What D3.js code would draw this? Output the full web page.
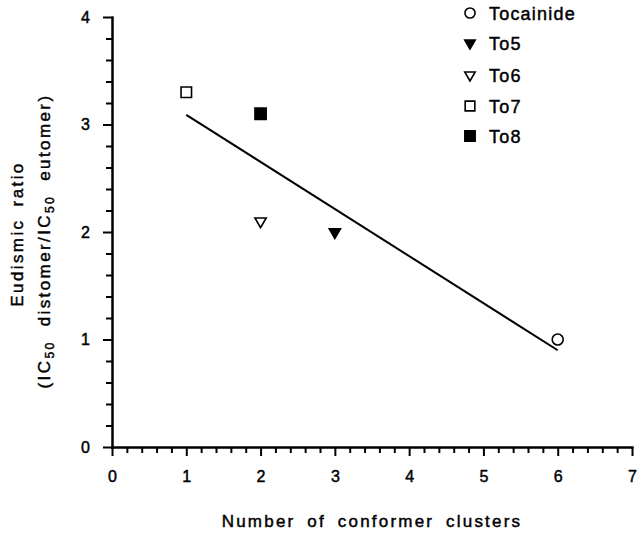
<!DOCTYPE html>
<html>
<head>
<meta charset="utf-8">
<script src="https://cdn.jsdelivr.net/npm/d3@7"></script>
<style>
  body { margin: 0; background: #fff; }
  svg { display: block; font-family: "Liberation Sans", Arial, sans-serif; }
  svg text { stroke: #000; stroke-width: 0.45px; }
  .axis path, .axis line { stroke: #000; stroke-width: 2; }
  .axis text { font-size: 16px; fill: #000; }
</style>
</head>
<body>
<div id="chart"></div>
<script>
// data
const compounds = ["Tocainide", "To5", "To6", "To7", "To8"];
const clusters = [6, 3, 2, 1, 2];
const ratios = [1.0, 2.0, 2.1, 3.3, 3.1];

// fitted line end points
const fitX = [1, 6];
const fitY = [3.09, 0.90];

const xTicks = [0, 1, 2, 3, 4, 5, 6, 7];
const yTicks = [0, 1, 2, 3, 4];

// marker style per compound
const MARKERS = {
    "Tocainide": {type: d3.symbolCircle, fill: "none", rot: 0, size: 95},
    "To5": {type: d3.symbolTriangle, fill: "#000", rot: 180, size: 55},
    "To6": {type: d3.symbolTriangle, fill: "none", rot: 180, size: 55},
    "To7": {type: d3.symbolSquare, fill: "none", rot: 0, size: 110},
    "To8": {type: d3.symbolSquare, fill: "#000", rot: 0, size: 125}
};

const WIDTH = 640, HEIGHT = 533;

const svg = d3.select("#chart").append("svg")
    .attr("width", WIDTH)
    .attr("height", HEIGHT);

const x = d3.scaleLinear().domain([0, 7]).range([112, 632]);
const y = d3.scaleLinear().domain([0, 4]).range([447, 17]);

// minor ticks every 0.2
const xMinor = d3.range(0, 36).map(i => i / 5).filter(v => v % 1 !== 0);
const yMinor = d3.range(0, 21).map(i => i / 5).filter(v => v % 1 !== 0);

svg.append("g").attr("class", "axis")
    .attr("transform", "translate(0,447)")
    .call(d3.axisBottom(x).tickValues(xMinor).tickSize(6).tickSizeOuter(0).tickFormat(""));
svg.append("g").attr("class", "axis")
    .attr("transform", "translate(0,447)")
    .call(d3.axisBottom(x).tickValues(xTicks).tickSize(9).tickSizeOuter(0).tickPadding(15).tickFormat(d3.format("d")));

svg.append("g").attr("class", "axis")
    .attr("transform", "translate(112,0)")
    .call(d3.axisLeft(y).tickValues(yMinor).tickSize(6).tickSizeOuter(0).tickFormat(""));
svg.append("g").attr("class", "axis")
    .attr("transform", "translate(112,0)")
    .call(d3.axisLeft(y).tickValues(yTicks).tickSize(9).tickSizeOuter(0).tickPadding(13).tickFormat(d3.format("d")));

svg.selectAll(".axis path.domain").attr("stroke-linecap", "square");

// regression line
svg.append("line")
    .attr("x1", x(fitX[0])).attr("y1", y(fitY[0]))
    .attr("x2", x(fitX[1])).attr("y2", y(fitY[1]))
    .attr("stroke", "#000")
    .attr("stroke-width", 2);

function drawMarker(g, name, size) {
    const m = MARKERS[name];
    g.append("path")
        .attr("d", d3.symbol().type(m.type).size(size || m.size)())
        .attr("transform", "rotate(" + m.rot + ")")
        .attr("fill", m.fill === "none" ? "#fff" : m.fill)
        .attr("stroke", "#000")
        .attr("stroke-width", 1.6);
}

// points
compounds.forEach(function(name, i) {
    const g = svg.append("g")
        .attr("transform", "translate(" + x(clusters[i]) + "," + y(ratios[i]) + ")");
    drawMarker(g, name);
});

// legend
const legend = svg.append("g").attr("transform", "translate(470,0)");
const legendY = [13, 43, 75, 106, 136];
compounds.forEach(function(name, i) {
    const g = legend.append("g").attr("transform", "translate(0," + legendY[i] + ")");
    drawMarker(g, name, MARKERS[name].size * 0.85);
    g.append("text")
        .attr("x", 19)
        .attr("y", 6.5)
        .attr("font-size", "18px")
        .attr("letter-spacing", "1.2px")
        .text(name);
});

// axis titles
svg.append("text")
    .attr("x", 372)
    .attr("y", 527)
    .attr("text-anchor", "middle")
    .attr("font-size", "17px")
    .attr("letter-spacing", "2.2px")
    .attr("word-spacing", "5px")
    .text("Number of conformer clusters");

svg.append("text")
    .attr("transform", "translate(23,234) rotate(-90)")
    .attr("text-anchor", "middle")
    .attr("font-size", "17px")
    .attr("letter-spacing", "2.4px")
    .attr("word-spacing", "5px")
    .text("Eudismic ratio");

const t2 = svg.append("text")
    .attr("transform", "translate(50,241) rotate(-90)")
    .attr("text-anchor", "middle")
    .attr("font-size", "17px")
    .attr("letter-spacing", "2.4px")
    .attr("word-spacing", "7px");
t2.append("tspan").text("(IC");
t2.append("tspan").attr("font-size", "12px").attr("dy", 4).text("50");
t2.append("tspan").attr("dy", -4).text(" distomer/IC");
t2.append("tspan").attr("font-size", "12px").attr("dy", 4).text("50");
t2.append("tspan").attr("dy", -4).text(" eutomer)");
</script>
</body>
</html>
